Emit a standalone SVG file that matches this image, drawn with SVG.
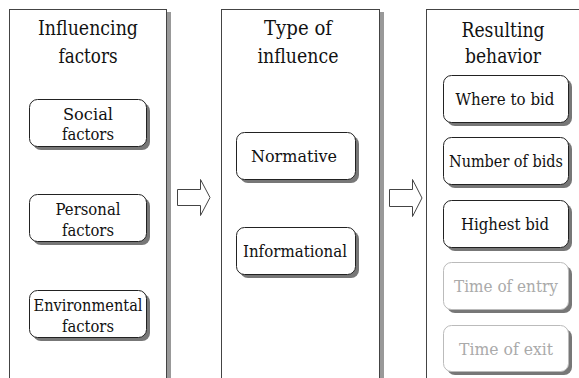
<svg xmlns="http://www.w3.org/2000/svg" width="579" height="378" viewBox="0 0 579 378">
<defs>
<style>
.panel{fill:#fff;stroke:#444;stroke-width:1}
.pshadow{fill:#999}
.box{fill:#fff;stroke:#222;stroke-width:1}
.boxl{fill:#fff;stroke:#bbb;stroke-width:1}
.shadow{fill:#777}
text{font-family:"DejaVu Serif",serif;text-anchor:middle}
.title{font-size:20px;fill:#111}
.lbl{font-size:17.5px;fill:#111}
.lbll{font-size:17.5px;fill:#aaa}
.arrow{fill:#fff;stroke:#444;stroke-width:1}
</style>
</defs>
<rect width="579" height="378" fill="#fff"/>

<g id="panel-influencing">
<rect class="pshadow" x="167" y="12" width="4" height="380"/>
<rect class="panel" x="9.5" y="9.5" width="157" height="380"/>
<text class="title" x="88" y="35" textLength="100" lengthAdjust="spacingAndGlyphs">Influencing</text>
<text class="title" x="88" y="63" textLength="59" lengthAdjust="spacingAndGlyphs">factors</text>
</g>
<g id="panel-type">
<rect class="pshadow" x="380" y="12" width="4" height="380"/>
<rect class="panel" x="221.5" y="9.5" width="158" height="380"/>
<text class="title" x="298" y="35" textLength="68" lengthAdjust="spacingAndGlyphs">Type of</text>
<text class="title" x="298" y="63" textLength="81" lengthAdjust="spacingAndGlyphs">influence</text>
</g>
<g id="panel-resulting">
<rect class="panel" x="426.5" y="9.5" width="170" height="380"/>
<text class="title" x="503" y="37" textLength="83" lengthAdjust="spacingAndGlyphs">Resulting</text>
<text class="title" x="503" y="63" textLength="76" lengthAdjust="spacingAndGlyphs">behavior</text>
</g>

<g id="social">
<rect class="shadow" x="33" y="103" width="117" height="47" rx="8"/>
<rect class="box" x="29.5" y="99.5" width="117" height="47" rx="8"/>
<text class="lbl" x="88" y="120" textLength="50" lengthAdjust="spacingAndGlyphs">Social</text>
<text class="lbl" x="88" y="140" textLength="52" lengthAdjust="spacingAndGlyphs">factors</text>
</g>
<g id="personal">
<rect class="shadow" x="33" y="198" width="117" height="47" rx="8"/>
<rect class="box" x="29.5" y="194.5" width="117" height="47" rx="8"/>
<text class="lbl" x="88" y="215" textLength="65" lengthAdjust="spacingAndGlyphs">Personal</text>
<text class="lbl" x="88" y="236" textLength="52" lengthAdjust="spacingAndGlyphs">factors</text>
</g>
<g id="environmental">
<rect class="shadow" x="33" y="294" width="117" height="47" rx="8"/>
<rect class="box" x="29.5" y="290.5" width="117" height="47" rx="8"/>
<text class="lbl" x="88" y="311" textLength="109" lengthAdjust="spacingAndGlyphs">Environmental</text>
<text class="lbl" x="88" y="332" textLength="52" lengthAdjust="spacingAndGlyphs">factors</text>
</g>

<g id="normative">
<rect class="shadow" x="240" y="136" width="119" height="47" rx="8"/>
<rect class="box" x="236.5" y="132.5" width="119" height="47" rx="8"/>
<text class="lbl" x="294" y="162" textLength="86" lengthAdjust="spacingAndGlyphs">Normative</text>
</g>
<g id="informational">
<rect class="shadow" x="240" y="231" width="119" height="47" rx="8"/>
<rect class="box" x="236.5" y="227.5" width="119" height="47" rx="8"/>
<text class="lbl" x="295" y="257" textLength="104" lengthAdjust="spacingAndGlyphs">Informational</text>
</g>

<g id="where">
<rect class="shadow" x="447" y="79" width="125" height="47" rx="8"/>
<rect class="box" x="443.5" y="75.5" width="125" height="47" rx="8"/>
<text class="lbl" x="505" y="105" textLength="99" lengthAdjust="spacingAndGlyphs">Where to bid</text>
</g>
<g id="number">
<rect class="shadow" x="447" y="141" width="125" height="47" rx="8"/>
<rect class="box" x="443.5" y="137.5" width="125" height="47" rx="8"/>
<text class="lbl" x="506" y="167" font-size="17" textLength="114" lengthAdjust="spacingAndGlyphs">Number of bids</text>
</g>
<g id="highest">
<rect class="shadow" x="447" y="204" width="125" height="47" rx="8"/>
<rect class="box" x="443.5" y="200.5" width="125" height="47" rx="8"/>
<text class="lbl" x="505" y="230" textLength="88" lengthAdjust="spacingAndGlyphs">Highest bid</text>
</g>
<g id="entry">
<rect class="shadow" x="447" y="266" width="125" height="47" rx="8"/>
<rect class="boxl" x="443.5" y="262.5" width="125" height="47" rx="8"/>
<text class="lbll" x="506" y="292" textLength="104" lengthAdjust="spacingAndGlyphs">Time of entry</text>
</g>
<g id="exit">
<rect class="shadow" x="447" y="329" width="125" height="46" rx="8"/>
<rect class="boxl" x="443.5" y="325.5" width="125" height="46" rx="8"/>
<text class="lbll" x="506" y="355" textLength="94" lengthAdjust="spacingAndGlyphs">Time of exit</text>
</g>

<g id="connectors">
<polygon class="arrow" points="177.5,189.5 200.5,189.5 200.5,179.5 210,197.5 200.5,215.5 200.5,205.5 177.5,205.5"/>
<polygon class="arrow" points="389.5,189.5 412.5,189.5 412.5,179.5 422,198 412.5,216.5 412.5,206.5 389.5,206.5"/>
</g>
</svg>
